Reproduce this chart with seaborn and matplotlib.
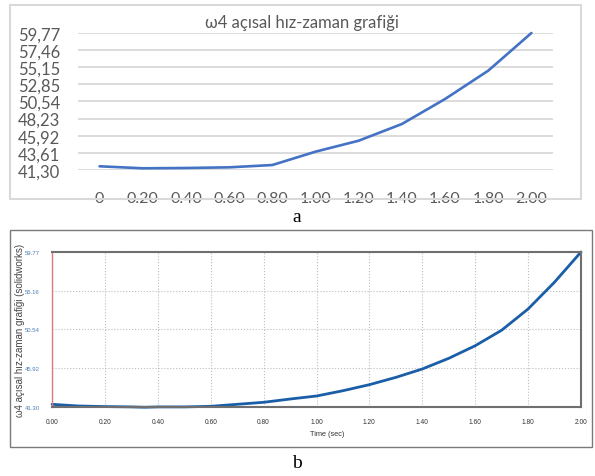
import numpy as np
import pandas as pd
import matplotlib
matplotlib.use("Agg")
import matplotlib.pyplot as plt
import seaborn as sns
from matplotlib.patches import Rectangle
from matplotlib.ticker import MultipleLocator, AutoMinorLocator

# ---------------- data ----------------
title_a = "ω4 açısal hız-zaman grafiği"
categories_a = ["0", "0.20", "0.40", "0.60", "0.80", "1.00", "1.20", "1.40", "1.60", "1.80", "2.00"]
values_a = [41.80, 41.53, 41.57, 41.66, 41.97, 43.77, 45.25, 47.50, 50.87, 54.69, 59.77]
yticks_a = [41.30, 43.61, 45.92, 48.23, 50.54, 52.85, 55.15, 57.46, 59.77]
yticklabels_a = ["41,30", "43,61", "45,92", "48,23", "50,54", "52,85", "55,15", "57,46", "59,77"]

ylabel_b = "ω4 açısal hız-zaman grafiği (solidworks)"
xlabel_b = "Time (sec)"
time_b = [0.0, 0.1, 0.2, 0.3, 0.35, 0.4, 0.5, 0.6, 0.7, 0.8, 0.9, 1.0,
          1.1, 1.2, 1.3, 1.4, 1.5, 1.6, 1.7, 1.8, 1.9, 2.0]
values_b = [41.62, 41.42, 41.35, 41.31, 41.27, 41.31, 41.31, 41.38, 41.62, 41.86, 42.25, 42.61,
            43.24, 43.96, 44.83, 45.83, 47.10, 48.60, 50.45, 52.98, 56.18, 59.77]
xticks_b = [0.0, 0.2, 0.4, 0.6, 0.8, 1.0, 1.2, 1.4, 1.6, 1.8, 2.0]
xticklabels_b = ["0.00", "0.20", "0.40", "0.60", "0.80", "1.00", "1.20", "1.40", "1.60", "1.80", "2.00"]
yticks_b = [41.30, 45.92, 50.54, 55.16, 59.77]
yticklabels_b = ["41.30", "45.92", "50.54", "55.16", "59.77"]

df_a = pd.DataFrame({"idx": np.arange(len(categories_a)), "w": values_a})
df_b = pd.DataFrame({"t": time_b, "w": values_b})

sns.set_style("white")
plt.rcParams["font.family"] = ["Liberation Sans", "DejaVu Sans"]

W, H = 595, 477
fig = plt.figure(figsize=(W / 100, H / 100), dpi=100)
fig.patch.set_facecolor("white")

def fx(px):
    return px / W

def fy(py):
    return 1 - py / H

# ---------------- panel a ----------------
fontA = ["Lato", "DejaVu Sans"]
gray_txt = "#595959"
axa = fig.add_axes([fx(78), fy(171), fx(553) - fx(78), fy(34) - fy(171)])
sns.lineplot(data=df_a, x="idx", y="w", ax=axa, color="#4472C4", linewidth=1.9, clip_on=False)
axa.set_xlim(-0.5, len(categories_a) - 0.5)
axa.set_ylim(yticks_a[0], yticks_a[-1])
axa.set_xticks(np.arange(len(categories_a)))
axa.set_xticklabels(categories_a, fontfamily=fontA, fontsize=11.5, color=gray_txt)
axa.set_yticks(yticks_a)
axa.set_yticklabels(yticklabels_a, fontfamily=fontA, fontsize=12, color=gray_txt)
axa.tick_params(axis="x", length=0, pad=15)
axa.tick_params(axis="y", length=0, pad=13)
axa.set_xlabel("")
axa.set_ylabel("")
for s in axa.spines.values():
    s.set_visible(False)
axa.yaxis.grid(True, color="#d9d9d9", linewidth=1.3)
axa.xaxis.grid(False)
axa.set_axisbelow(True)
fig.text(fx(302), fy(23), title_a, ha="center", va="center", fontsize=12,
         color=gray_txt, family=fontA)
fig.add_artist(Rectangle((fx(10), fy(200)), fx(581) - fx(10), fy(6) - fy(200),
                         transform=fig.transFigure, fill=False, ec="#d9d9d9", lw=1.5))
fig.text(fx(297), fy(217), "a", ha="center", va="center", fontsize=14,
         family=["Liberation Serif", "DejaVu Serif"], color="black")

# ---------------- panel b ----------------
axb = fig.add_axes([fx(52), fy(408), fx(581) - fx(52), fy(253) - fy(408)])
sns.lineplot(data=df_b, x="t", y="w", ax=axb, color="#1a5ea8", linewidth=2.0, clip_on=False)
axb.set_xlim(0, 2)
axb.set_ylim(yticks_b[0], yticks_b[-1])
axb.set_xticks(xticks_b)
axb.set_xticklabels(xticklabels_b, fontsize=4.8, color="#333333")
axb.set_yticks(yticks_b)
axb.set_yticklabels(yticklabels_b, fontsize=4.3, color="#4a7cb5")
axb.xaxis.set_minor_locator(MultipleLocator(0.1))
axb.yaxis.set_minor_locator(AutoMinorLocator(2))
axb.tick_params(axis="both", which="major", direction="inout", length=4, width=0.8,
                color="#555555")
axb.tick_params(axis="x", which="major", pad=6)
axb.tick_params(axis="y", which="major", pad=7)
axb.tick_params(axis="both", which="minor", direction="in", length=2.5, width=0.6,
                color="#555555")
axb.grid(True, which="major", linestyle=":", color="#bdbdbd", linewidth=0.8)
axb.set_axisbelow(True)
axb.set_xlabel(xlabel_b, fontsize=5.3, color="#333333")
axb.xaxis.set_label_coords((327 - 52) / 529, -0.15)
axb.set_ylabel(ylabel_b, fontsize=7, color="#444444")
axb.yaxis.set_label_coords((25 - 52) / 529, 0.5)
axb.spines["left"].set_color("#e07a7a")
axb.spines["left"].set_linewidth(1.0)
for k in ["top", "right", "bottom"]:
    axb.spines[k].set_color("#6f6f6f")
    axb.spines[k].set_linewidth(1.5)
fig.add_artist(Rectangle((fx(10), fy(448)), fx(592) - fx(10), fy(231) - fy(448),
                         transform=fig.transFigure, fill=False, ec="#7a7a7a", lw=1.0))
fig.text(fx(297), fy(464), "b", ha="center", va="center", fontsize=14,
         family=["Liberation Serif", "DejaVu Serif"], color="black")

fig.savefig("out.png", dpi=100, facecolor="white")
